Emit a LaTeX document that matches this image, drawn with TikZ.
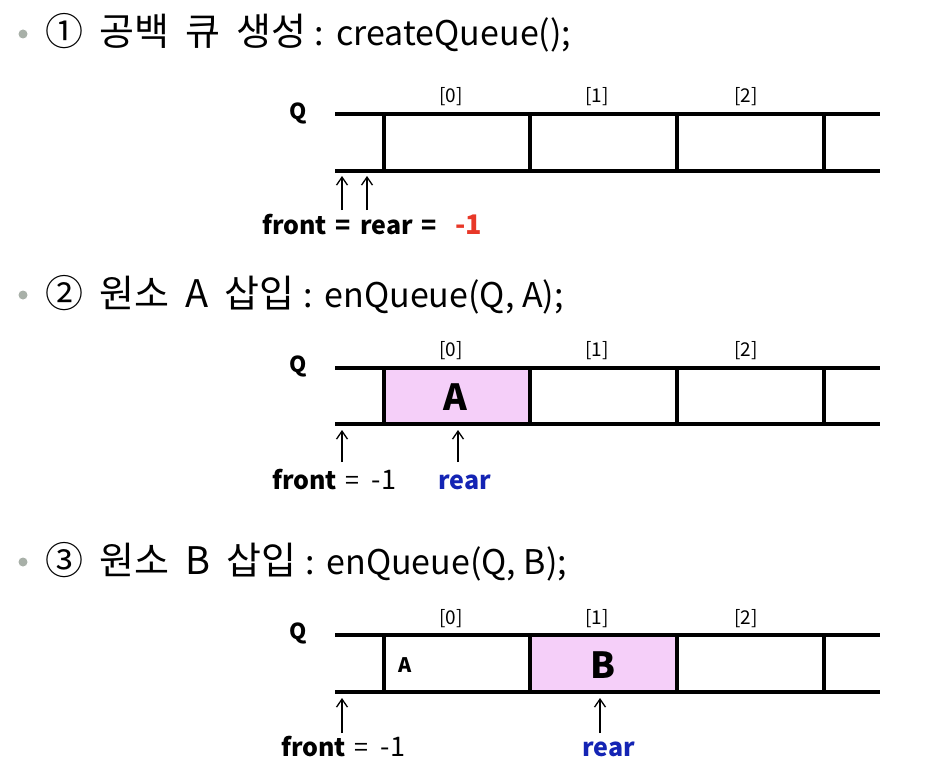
\documentclass[tikz,border=0pt]{standalone}
\usepackage{fontspec}
\setmainfont{Noto Sans CJK KR}
\usetikzlibrary{arrows.meta}
\definecolor{cellpink}{HTML}{F5CFF9}
\definecolor{rearblue}{HTML}{1424B4}
\definecolor{minusred}{HTML}{E83828}
\definecolor{bulletgray}{HTML}{A8B0A8}
\newcommand{\eqsp}{\hspace*{9pt}}
\newcommand{\wsp}{\hspace*{16pt}}
\newcommand{\kor}[1]{{\fontsize{38}{42}\selectfont #1}}
\newcommand{\lat}[1]{{\fontsize{34}{40}\selectfont #1}}
\newcommand{\mone}{{\fontsize{27}{30}\selectfont -1}}
\begin{document}
\begin{tikzpicture}[x=1pt,y=-1pt,
  qline/.style={line width=4pt},
  ptr/.style={line width=1.3pt,-{Straight Barb[length=8pt,width=11pt,line width=1.3pt]}},
  title/.style={anchor=base west,inner sep=0pt},
  idx/.style={inner sep=0pt,font=\fontsize{19}{22}\selectfont},
  qlab/.style={inner sep=0pt,font=\bfseries\fontsize{22}{26}\selectfont},
  big/.style={inner sep=0pt,font=\bfseries\fontsize{36}{40}\selectfont},
  lab/.style={inner sep=0pt,anchor=base west,font=\fontsize{25}{28}\selectfont},
  bul/.style={circle,fill=bulletgray,inner sep=0pt,minimum size=9pt}
]
\useasboundingbox (0,0) rectangle (930,784);
% ---------- section 1
\node[bul] (b1) at (23,34) {};
\node[title] (t1) at (45,46) {\kor{①\wsp 공백\wsp 큐\wsp 생성}\lat{\hspace*{9pt}:\hspace*{12pt}createQueue();}};
\node[qlab] (q1) at (298,113) {Q};
\foreach \i/\x in {0/451,1/597,2/746} \node[idx] (i1\i) at (\x,97) {[\i]};
\draw[qline] (335,114) -- (880,114);
\draw[qline] (335,171) -- (880,171);
\foreach \x in {384,530,677,824} \draw[qline] (\x,114) -- (\x,171);
\node[lab] (f1) at (262,234) {\textbf{front\eqsp=\eqsp rear\eqsp=\hspace*{18pt}\textcolor{minusred}{\mone}}};
\coordinate (a1s) at (342,210); \coordinate (a1e) at (342,176);
\coordinate (a2s) at (367,210); \coordinate (a2e) at (367,176);
\draw[ptr] (a1s) -- (a1e);
\draw[ptr] (a2s) -- (a2e);
% ---------- section 2
\node[bul] (b2) at (23,295) {};
\node[title] (t2) at (45,307) {\kor{②\wsp 원소\wsp A\wsp 삽입}\lat{\hspace*{9pt}:\hspace*{12pt}enQueue(Q, A);}};
\node[qlab] (q2) at (298,366) {Q};
\foreach \i/\x in {0/451,1/597,2/746} \node[idx] (i2\i) at (\x,351) {[\i]};
\fill[cellpink] (384,368) rectangle (530,424);
\draw[qline] (335,368) -- (880,368);
\draw[qline] (335,424) -- (880,424);
\foreach \x in {384,530,677,824} \draw[qline] (\x,368) -- (\x,424);
\node[big] (A2) at (455,397) {A};
\node[lab] (f2) at (272,489) {\textbf{front}\eqsp=\hspace*{12pt}\mone};
\node[lab,text=rearblue,font=\bfseries\fontsize{25}{28}\selectfont] (r2) at (438,489) {rear};
\coordinate (c1s) at (342,462); \coordinate (c1e) at (342,430);
\coordinate (c2s) at (458,462); \coordinate (c2e) at (458,430);
\draw[ptr] (c1s) -- (c1e);
\draw[ptr] (c2s) -- (c2e);
% ---------- section 3
\node[bul] (b3) at (23,562) {};
\node[title] (t3) at (45,574) {\kor{③\wsp 원소\wsp B\wsp 삽입}\lat{\hspace*{9pt}:\hspace*{12pt}enQueue(Q, B);}};
\node[qlab] (q3) at (298,633) {Q};
\foreach \i/\x in {0/451,1/597,2/746} \node[idx] (i3\i) at (\x,619) {[\i]};
\fill[cellpink] (530,635) rectangle (677,692);
\draw[qline] (335,635) -- (880,635);
\draw[qline] (335,692) -- (880,692);
\foreach \x in {384,530,677,824} \draw[qline] (\x,635) -- (\x,692);
\node[inner sep=0pt,font=\bfseries\fontsize{20}{24}\selectfont] (A3) at (405,665) {A};
\node[big] (B3) at (603,665) {B};
\node[lab] (f3) at (281,756) {\textbf{front}\eqsp=\hspace*{12pt}\mone};
\node[lab,text=rearblue,font=\bfseries\fontsize{25}{28}\selectfont] (r3) at (582,756) {rear};
\coordinate (d1s) at (342,733); \coordinate (d1e) at (342,698);
\coordinate (d2s) at (600,733); \coordinate (d2e) at (600,698);
\draw[ptr] (d1s) -- (d1e);
\draw[ptr] (d2s) -- (d2e);
\end{tikzpicture}
\end{document}
